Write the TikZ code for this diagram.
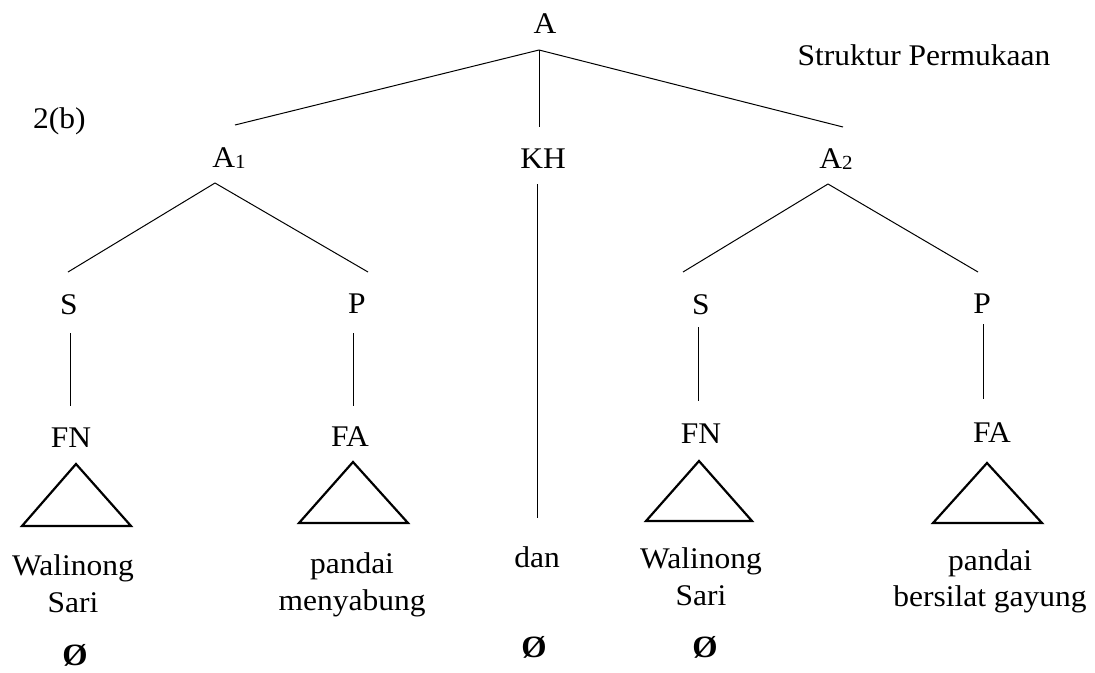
\documentclass[tikz,border=0pt]{standalone}
\usepackage{fontspec}
\setmainfont{Liberation Serif}[FakeStretch=1.05]
\newcommand\subidx[1]{\raisebox{-1.5pt}{\fontsize{20}{24}\selectfont #1}}
\tikzset{
  lbl/.style={anchor=base, inner sep=0pt, font=\fontsize{30}{36}\selectfont},
  nullsym/.style={anchor=base, inner sep=0pt, font=\fontsize{31}{36}\selectfont\bfseries},
  edge/.style={line width=1pt},
  tri/.style={line width=2.2pt, line join=miter}
}
\begin{document}
\begin{tikzpicture}[x=1pt, y=-1pt]
\useasboundingbox (0,0) rectangle (1095,672);
\fill[white] (0,0) rectangle (1095,672);
% labels
\node[lbl] (A) at (545,33) {A};
\node[lbl] (SP) at (924,65) {Struktur Permukaan};
\node[lbl, anchor=base west] (lab) at (33,128) {2(b)};
\node[lbl] (A1) at (229,167) {A\subidx{1}};
\node[lbl] (KH) at (543,168) {KH};
\node[lbl] (A2) at (836,168) {A\subidx{2}};
\node[lbl] (S1) at (69,314) {S};
\node[lbl] (P1) at (357,313) {P};
\node[lbl] (S2) at (701,314) {S};
\node[lbl] (P2) at (982,313) {P};
\node[lbl] (FN1) at (71,447) {FN};
\node[lbl] (FA1) at (350,446) {FA};
\node[lbl] (FN2) at (701,443) {FN};
\node[lbl] (FA2) at (992,442) {FA};
\node[lbl] (w1a) at (73,575) {Walinong};
\node[lbl] (w1b) at (73,612) {Sari};
\node[lbl] (p1a) at (352,573) {pandai};
\node[lbl] (p1b) at (352,610) {menyabung};
\node[lbl] (dan) at (537,567) {dan};
\node[lbl] (w2a) at (701,568) {Walinong};
\node[lbl] (w2b) at (701,605) {Sari};
\node[lbl] (p2a) at (990,570) {pandai};
\node[lbl] (p2b) at (990,606) {bersilat gayung};
\node[nullsym] (n1) at (75,665) {Ø};
\node[nullsym] (n2) at (534,657) {Ø};
\node[nullsym] (n3) at (705,657) {Ø};
% connector end points
\coordinate (A-s) at (539,50);
\coordinate (A1-n) at (235,125);
\coordinate (KH-n) at (539,127);
\coordinate (A2-n) at (843,127);
\coordinate (A1-s) at (215,183);
\coordinate (S1-n) at (68,272);
\coordinate (P1-n) at (368,272);
\coordinate (KH-s) at (537,184);
\coordinate (dan-n) at (537,518);
\coordinate (A2-s) at (828,184);
\coordinate (S2-n) at (683,272);
\coordinate (P2-n) at (978,272);
\coordinate (S1-s) at (70,333);
\coordinate (FN1-n) at (70,406);
\coordinate (P1-s) at (353,333);
\coordinate (FA1-n) at (353,406);
\coordinate (S2-s) at (698,327);
\coordinate (FN2-n) at (698,401);
\coordinate (P2-s) at (983,324);
\coordinate (FA2-n) at (983,399);
% triangles
\coordinate (t1) at (76,464);  \coordinate (t1l) at (22,526);  \coordinate (t1r) at (131,526);
\coordinate (t2) at (353,462); \coordinate (t2l) at (299,523); \coordinate (t2r) at (408,523);
\coordinate (t3) at (699,461); \coordinate (t3l) at (646,521); \coordinate (t3r) at (752,521);
\coordinate (t4) at (987,463); \coordinate (t4l) at (933,523); \coordinate (t4r) at (1042,523);
% edges
\draw[edge] (A-s) -- (A1-n);
\draw[edge] (A-s) -- (KH-n);
\draw[edge] (A-s) -- (A2-n);
\draw[edge] (A1-s) -- (S1-n);
\draw[edge] (A1-s) -- (P1-n);
\draw[edge] (KH-s) -- (dan-n);
\draw[edge] (A2-s) -- (S2-n);
\draw[edge] (A2-s) -- (P2-n);
\draw[edge] (S1-s) -- (FN1-n);
\draw[edge] (P1-s) -- (FA1-n);
\draw[edge] (S2-s) -- (FN2-n);
\draw[edge] (P2-s) -- (FA2-n);
\draw[tri] (t1) -- (t1l) -- (t1r) -- cycle;
\draw[tri] (t2) -- (t2l) -- (t2r) -- cycle;
\draw[tri] (t3) -- (t3l) -- (t3r) -- cycle;
\draw[tri] (t4) -- (t4l) -- (t4r) -- cycle;
\end{tikzpicture}
\end{document}
